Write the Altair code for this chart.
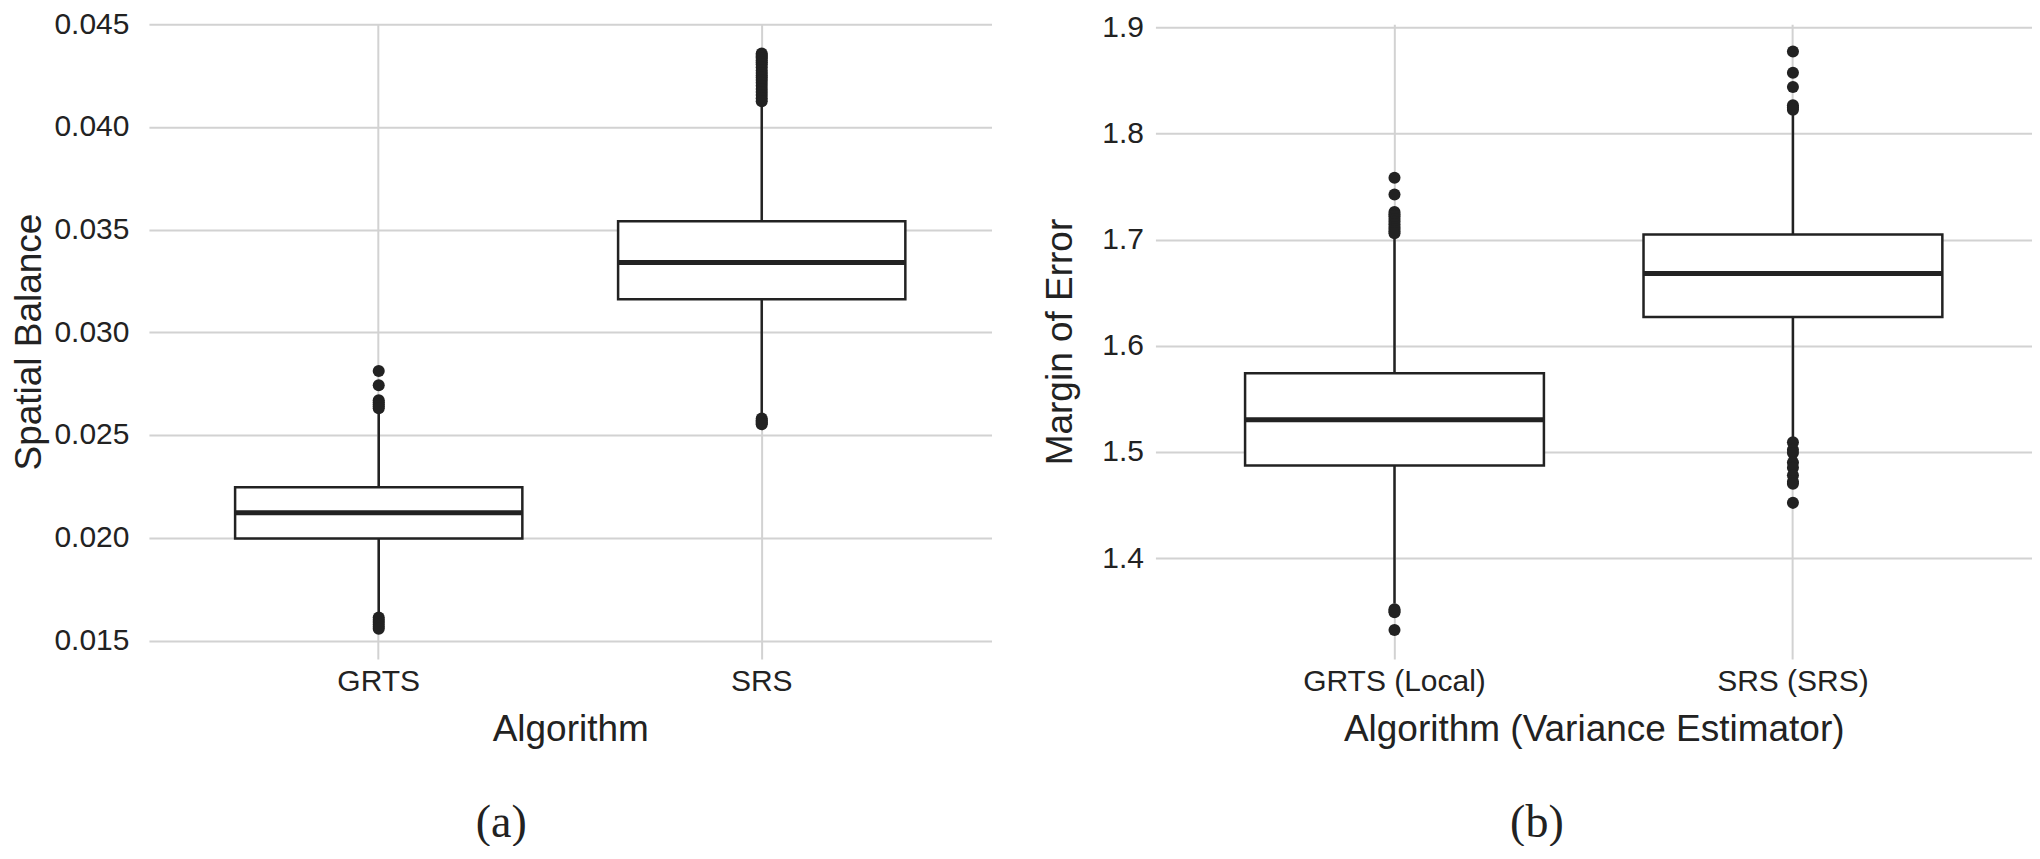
import altair as alt
import pandas as pd

# ---------- Panel (a): Spatial Balance ----------
cats_a = ["GRTS", "SRS"]
q1_a = [0.01996, 0.03161]
med_a = [0.02121, 0.03340]
q3_a = [0.02246, 0.03541]
lo_a = [0.01621, 0.02591]
hi_a = [0.02621, 0.04111]
out_a_grts = [0.02812, 0.02742, 0.02669, 0.02660, 0.02650, 0.02640, 0.02630,
              0.01612, 0.01600, 0.01590, 0.01578, 0.01567, 0.01557]
out_a_srs = [0.04357, 0.04350, 0.04342, 0.04335, 0.04325, 0.04315, 0.04305,
             0.04290, 0.04275, 0.04262, 0.04250, 0.04240, 0.04228, 0.04215,
             0.04200, 0.04185, 0.04170, 0.04155, 0.04140, 0.04125,
             0.02580, 0.02572, 0.02565, 0.02558, 0.02552]
yticks_a = [0.015, 0.020, 0.025, 0.030, 0.035, 0.040, 0.045]
ydom_a = [0.0141, 0.0450]

# ---------- Panel (b): Margin of Error ----------
cats_b = ["GRTS (Local)", "SRS (SRS)"]
q1_b = [1.4873, 1.6271]
med_b = [1.5303, 1.6681]
q3_b = [1.5741, 1.7048]
lo_b = [1.3571, 1.5107]
hi_b = [1.7043, 1.8200]
out_b_grts = [1.7583, 1.7426, 1.7260, 1.7240, 1.7220, 1.7195, 1.7170, 1.7145,
              1.7120, 1.7100, 1.7080, 1.7060, 1.3517, 1.3500, 1.3489, 1.3323]
out_b_srs = [1.8773, 1.8573, 1.8438, 1.8266, 1.8245, 1.8225,
             1.5092, 1.5020, 1.4990, 1.4900, 1.4850, 1.4780, 1.4720, 1.4701,
             1.4520]
yticks_b = [1.4, 1.5, 1.6, 1.7, 1.8, 1.9]
ydom_b = [1.305, 1.903]

FONT = "Liberation Sans"
INK = "#222222"
GRID = "#d2d2d2"
AXIS_STYLE = dict(labelFont=FONT, titleFont=FONT, labelFontSize=30,
                  titleFontSize=37, labelColor=INK, titleColor=INK,
                  titleFontWeight="normal", ticks=False, domain=False,
                  grid=True, gridColor=GRID, gridWidth=2, labelLimit=600)


def panel(cats, q1, med, q3, lo, hi, outs, ydom, yticks, fmt, ytitle, xtitle,
          width, caption, ylabpad, ytitlepad):
    stats = pd.DataFrame({"cat": cats, "lo": lo, "q1": q1, "med": med,
                          "q3": q3, "hi": hi})
    orows = []
    for c, vals in zip(cats, outs):
        for v in vals:
            orows.append({"cat": c, "value": v})
    odf = pd.DataFrame(orows)

    xenc = alt.X(
        "cat:N", sort=cats, title=xtitle,
        scale=alt.Scale(paddingInner=0.25, paddingOuter=0.225),
        axis=alt.Axis(labelAngle=0, labelPadding=8, titlePadding=15,
                      bandPosition=0.5, **AXIS_STYLE),
    )
    yscale = alt.Scale(domain=ydom, nice=False, zero=False)
    yaxis = alt.Axis(values=yticks, format=fmt, labelPadding=ylabpad,
                     titlePadding=ytitlepad, **AXIS_STYLE)

    def Y(field):
        return alt.Y(f"{field}:Q", scale=yscale, axis=yaxis, title=ytitle)

    base = alt.Chart(stats)
    whisk = base.mark_rule(color=INK, strokeWidth=2.5).encode(
        x=xenc, y=Y("lo"), y2="hi:Q")
    box = base.mark_bar(fill="white", stroke=INK, strokeWidth=2.5).encode(
        x=xenc, y=Y("q1"), y2="q3:Q")
    median = base.mark_bar(fill=INK, stroke=INK, strokeWidth=5).encode(
        x=xenc, y=Y("med"), y2="med:Q")
    pts = alt.Chart(odf).mark_circle(size=145, color=INK, opacity=1).encode(
        x=xenc, y=Y("value"))

    return alt.layer(whisk, box, median, pts).properties(
        width=width, height=635,
        title=alt.TitleParams(caption, orient="bottom", anchor="middle",
                              frame="bounds", fontSize=46,
                              font="Liberation Serif", fontWeight="normal",
                              color=INK, offset=53),
    )


left = panel(cats_a, q1_a, med_a, q3_a, lo_a, hi_a, [out_a_grts, out_a_srs],
             ydom_a, yticks_a, ".3f", "Spatial Balance", "Algorithm", 843,
             "(a)", 20, 5)
right = panel(cats_b, q1_b, med_b, q3_b, lo_b, hi_b, [out_b_grts, out_b_srs],
              ydom_b, yticks_b, ".1f", "Margin of Error",
              "Algorithm (Variance Estimator)", 877, "(b)", 12, 22)

chart = alt.hconcat(left, right, spacing=50).properties(
    padding={"left": 2, "top": 1, "right": 0, "bottom": 0},
    background="white",
).configure_view(stroke=None)

chart.save("out.html", embed_options={"renderer": "svg", "actions": False})
